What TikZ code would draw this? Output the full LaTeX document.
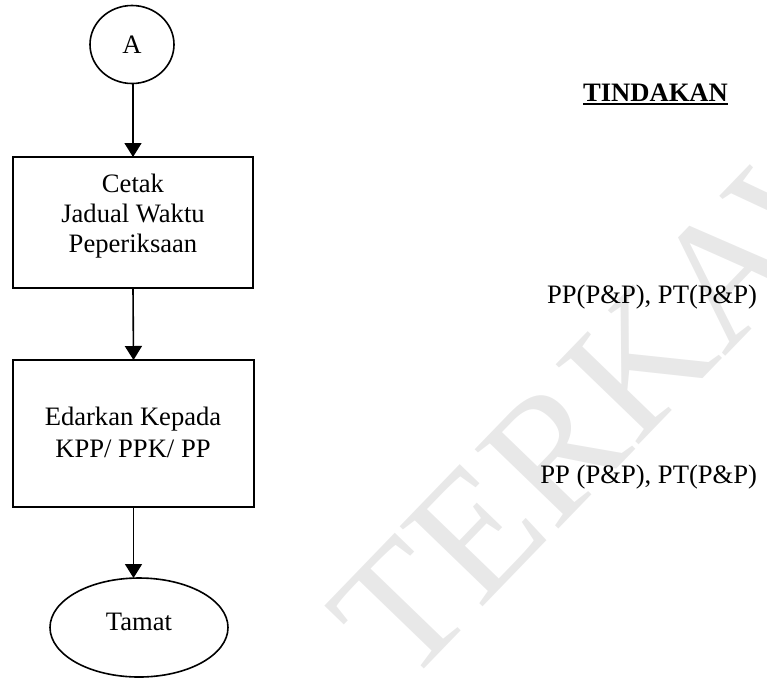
\documentclass[tikz,border=0pt]{standalone}
\usepackage{fontspec}
\setmainfont{Liberation Serif}
\usetikzlibrary{arrows.meta,shapes.geometric}
\begin{document}
\begin{tikzpicture}[x=1pt,y=-1pt,
  every node/.style={font=\fontsize{26.6}{30}\selectfont, inner sep=0pt, outer sep=0pt},
  shapeline/.style={draw, line width=1.6pt},
  flow/.style={line width=1.6pt, -{Triangle[length=14pt,width=17pt]}},
  txt/.style={anchor=base},
  wmark/.style={rotate=46, anchor=base west, text=black!9, font=\fontsize{176}{176}\selectfont}]
\useasboundingbox (0,0) rectangle (767,678);
\clip (0,0) rectangle (767,678);
% watermark
\node[wmark] (wm) at (405,688) {TERKAWAL};
% flowchart shapes
\node[shapeline, ellipse, minimum width=84pt, minimum height=78pt] (a) at (132,44.5) {A};
\node[shapeline, rectangle, minimum width=240pt, minimum height=131pt] (b1) at (133,222.5) {};
\node[shapeline, rectangle, minimum width=241pt, minimum height=147pt] (b2) at (133.5,433.5) {};
\node[shapeline, ellipse, minimum width=178pt, minimum height=99pt] (t) at (139,627.5) {};
% texts
\node[txt] (b1l1) at (133,192) {Cetak};
\node[txt] (b1l2) at (133,222) {Jadual Waktu};
\node[txt] (b1l3) at (133,252) {Peperiksaan};
\node[txt] (b2l1) at (133,425) {Edarkan Kepada};
\node[txt] (b2l2) at (133,457) {KPP/ PPK/ PP};
\node[txt] (tl) at (139,630) {Tamat};
\node[txt] (tind) at (655.5,101) {\bfseries TINDAKAN};
\draw[line width=2.2pt] ([yshift=-2.8pt]tind.base west) -- ([yshift=-2.8pt]tind.base east);
\node[anchor=base east] (pp1) at (757,303) {PP(P\&P), PT(P\&P)};
\node[anchor=base east] (pp2) at (757,483) {PP (P\&P), PT(P\&P)};
% connectors
\draw[flow] (a.south -| b1.north) -- (b1.north);
\draw[flow] (b1.south) -- (b2.north);
\draw[flow] (b2.south) -- (b2.south |- t.north);
\end{tikzpicture}
\end{document}
